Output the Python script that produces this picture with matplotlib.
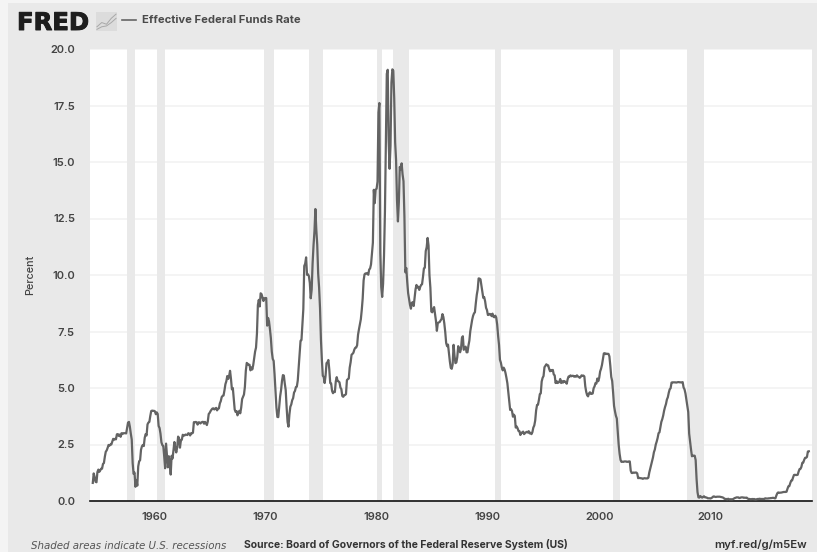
import numpy as np
import matplotlib
matplotlib.use("Agg")
import matplotlib.pyplot as plt
import matplotlib.patheffects as pe
from matplotlib.patches import Rectangle

# monthly effective rate, Jul 1954 onwards
rates_1954_1959 = [0.80, 1.22, 1.06, 0.85, 0.83, 1.28,
    1.39, 1.29, 1.35, 1.43, 1.43, 1.64, 1.68, 1.96, 2.18, 2.24, 2.35, 2.48,
    2.45, 2.50, 2.50, 2.62, 2.75, 2.71, 2.75, 2.73, 2.95, 2.96, 2.88, 2.94,
    2.84, 3.00, 2.96, 3.00, 3.00, 3.00, 2.99, 3.24, 3.47, 3.50, 3.28, 2.98,
    2.72, 1.67, 1.20, 1.26, 0.63, 0.93, 0.68, 1.53, 1.76, 1.80, 2.27, 2.42,
    2.48, 2.43, 2.80, 2.96, 2.90, 3.39, 3.47, 3.50, 3.76, 3.98, 4.00, 3.99]
rates_1960s = [3.99, 3.97, 3.84, 3.92, 3.85, 3.32, 3.23, 2.98, 2.60, 2.47, 2.44, 1.98,
    1.45, 2.54, 2.02, 1.49, 1.98, 1.73, 1.17, 2.00, 1.88, 2.26, 2.61, 2.33,
    2.15, 2.37, 2.85, 2.78, 2.36, 2.68, 2.71, 2.93, 2.90, 2.90, 2.94, 2.93,
    2.92, 3.00, 2.98, 2.90, 3.00, 2.99, 3.02, 3.49, 3.48, 3.50, 3.48, 3.38,
    3.48, 3.48, 3.43, 3.47, 3.50, 3.50, 3.42, 3.50, 3.45, 3.36, 3.52, 3.85,
    3.90, 3.98, 4.04, 4.09, 4.10, 4.05, 4.09, 4.12, 4.01, 4.08, 4.10, 4.32,
    4.42, 4.60, 4.65, 4.67, 4.90, 5.17, 5.30, 5.53, 5.40, 5.53, 5.76, 5.40,
    4.94, 5.00, 4.53, 4.05, 3.94, 3.98, 3.79, 3.90, 3.99, 3.88, 4.13, 4.51,
    4.61, 4.71, 5.05, 5.76, 6.11, 6.07, 6.02, 6.03, 5.78, 5.91, 5.82, 6.02,
    6.30, 6.61, 6.79, 7.41, 8.67, 8.90, 8.61, 9.19, 9.15, 9.00, 8.85, 8.97]
rates_1970s = [8.98, 8.98, 7.76, 8.10, 7.95, 7.61, 7.21, 6.61, 6.29, 6.20, 5.60, 4.90,
    4.14, 3.72, 3.71, 4.15, 4.63, 4.91, 5.31, 5.57, 5.55, 5.20, 4.91, 4.14,
    3.50, 3.29, 3.83, 4.17, 4.27, 4.46, 4.55, 4.80, 4.87, 5.04, 5.06, 5.33,
    5.94, 6.58, 7.09, 7.12, 7.84, 8.49, 10.40, 10.50, 10.78, 10.01, 10.03, 9.95,
    9.65, 8.97, 9.35, 10.51, 11.31, 11.93, 12.92, 12.01, 11.34, 10.06, 9.45, 8.53,
    7.13, 6.24, 5.54, 5.49, 5.22, 5.55, 6.10, 6.14, 6.24, 5.82, 5.22, 5.20,
    4.87, 4.77, 4.84, 4.82, 5.29, 5.48, 5.31, 5.29, 5.25, 5.02, 4.95, 4.65,
    4.61, 4.68, 4.69, 4.73, 5.35, 5.39, 5.42, 5.90, 6.14, 6.47, 6.51, 6.56,
    6.70, 6.78, 6.79, 6.89, 7.36, 7.60, 7.81, 8.04, 8.45, 8.96, 9.76, 10.03,
    10.07, 10.06, 10.09, 10.01, 10.24, 10.29, 10.47, 10.94, 11.43, 13.77, 13.18, 13.78]
rates_1980s = [13.82, 14.13, 17.19, 17.61, 10.98, 9.47, 9.03, 9.61, 10.87, 12.81, 15.85, 18.90,
    19.08, 15.93, 14.70, 15.72, 18.52, 19.10, 19.04, 17.82, 15.87, 15.08, 13.31, 12.37,
    13.22, 14.78, 14.68, 14.94, 14.45, 14.15, 12.59, 10.12, 10.31, 9.71, 9.20, 8.95,
    8.68, 8.51, 8.77, 8.80, 8.63, 8.98, 9.37, 9.56, 9.45, 9.48, 9.34, 9.47,
    9.56, 9.59, 9.91, 10.29, 10.32, 11.06, 11.23, 11.64, 11.30, 9.99, 9.43, 8.38,
    8.35, 8.50, 8.58, 8.27, 7.97, 7.53, 7.88, 7.90, 7.92, 7.99, 8.05, 8.27,
    8.14, 7.86, 7.48, 6.99, 6.85, 6.92, 6.56, 6.17, 5.89, 5.85, 6.04, 6.91,
    6.43, 6.10, 6.13, 6.37, 6.85, 6.73, 6.58, 6.73, 7.22, 7.29, 6.69, 6.77,
    6.83, 6.58, 6.58, 6.87, 7.09, 7.51, 7.75, 8.01, 8.19, 8.30, 8.35, 8.76,
    9.12, 9.36, 9.85, 9.84, 9.81, 9.53, 9.24, 8.99, 9.02, 8.84, 8.55, 8.45]
rates_1990s = [8.23, 8.24, 8.28, 8.26, 8.18, 8.29, 8.15, 8.13, 8.20, 8.11, 7.81, 7.31,
    6.91, 6.25, 6.12, 5.91, 5.78, 5.90, 5.82, 5.66, 5.45, 5.21, 4.81, 4.43,
    4.03, 4.06, 3.98, 3.73, 3.82, 3.76, 3.25, 3.30, 3.22, 3.10, 3.09, 2.92,
    3.02, 3.03, 3.07, 2.96, 3.00, 3.04, 3.06, 3.03, 3.09, 2.99, 3.02, 2.96,
    3.05, 3.25, 3.34, 3.56, 4.01, 4.25, 4.26, 4.47, 4.73, 4.76, 5.29, 5.45,
    5.53, 5.92, 5.98, 6.05, 6.01, 6.00, 5.85, 5.74, 5.80, 5.76, 5.80, 5.60,
    5.56, 5.22, 5.31, 5.22, 5.24, 5.27, 5.40, 5.22, 5.30, 5.24, 5.31, 5.29,
    5.25, 5.19, 5.39, 5.51, 5.50, 5.56, 5.52, 5.54, 5.54, 5.50, 5.52, 5.50,
    5.56, 5.51, 5.49, 5.45, 5.49, 5.56, 5.54, 5.55, 5.51, 5.07, 4.83, 4.68,
    4.63, 4.76, 4.81, 4.74, 4.74, 4.76, 4.99, 5.07, 5.22, 5.20, 5.42, 5.30]
rates_2000s = [5.45, 5.73, 5.85, 6.02, 6.27, 6.53, 6.54, 6.50, 6.52, 6.51, 6.51, 6.40,
    5.98, 5.49, 5.31, 4.80, 4.21, 3.97, 3.77, 3.65, 3.07, 2.49, 2.09, 1.82,
    1.73, 1.74, 1.73, 1.75, 1.75, 1.75, 1.73, 1.74, 1.75, 1.75, 1.34, 1.24,
    1.24, 1.26, 1.25, 1.26, 1.26, 1.22, 1.01, 1.03, 1.01, 1.01, 1.00, 0.98,
    1.00, 1.01, 1.00, 1.00, 1.00, 1.03, 1.26, 1.43, 1.61, 1.76, 1.93, 2.16,
    2.28, 2.50, 2.63, 2.79, 3.00, 3.04, 3.26, 3.50, 3.62, 3.78, 4.00, 4.16,
    4.29, 4.49, 4.59, 4.79, 4.94, 4.99, 5.24, 5.25, 5.25, 5.25, 5.25, 5.24,
    5.25, 5.26, 5.26, 5.25, 5.25, 5.25, 5.26, 5.02, 4.94, 4.76, 4.49, 4.24,
    3.94, 2.98, 2.61, 2.28, 1.98, 2.00, 2.01, 2.00, 1.81, 0.97, 0.39, 0.16,
    0.15, 0.22, 0.18, 0.15, 0.18, 0.21, 0.16, 0.16, 0.15, 0.12, 0.12, 0.12]
rates_2010s = [0.11, 0.13, 0.16, 0.20, 0.20, 0.18, 0.18, 0.19, 0.19, 0.19, 0.19, 0.18,
    0.17, 0.16, 0.14, 0.10, 0.09, 0.09, 0.07, 0.10, 0.08, 0.07, 0.08, 0.07,
    0.08, 0.10, 0.13, 0.14, 0.16, 0.16, 0.16, 0.13, 0.14, 0.16, 0.16, 0.16,
    0.14, 0.15, 0.14, 0.15, 0.11, 0.09, 0.09, 0.08, 0.08, 0.09, 0.08, 0.09,
    0.07, 0.07, 0.08, 0.09, 0.09, 0.10, 0.09, 0.09, 0.09, 0.09, 0.09, 0.12,
    0.11, 0.11, 0.11, 0.12, 0.12, 0.13, 0.13, 0.14, 0.14, 0.12, 0.12, 0.24,
    0.34, 0.38, 0.36, 0.37, 0.37, 0.38, 0.39, 0.40, 0.40, 0.40, 0.41, 0.54,
    0.65, 0.66, 0.79, 0.90, 0.91, 1.04, 1.15, 1.16, 1.15, 1.15, 1.16, 1.30,
    1.41, 1.42, 1.51, 1.69, 1.70, 1.82, 1.91, 1.91, 1.95, 2.19, 2.20]

recession_starts = [1957.6, 1960.3, 1969.9, 1973.9, 1980.0, 1981.5, 1990.6, 2001.2, 2007.9]
recession_ends = [1958.3, 1961.0, 1970.8, 1975.2, 1980.5, 1982.9, 1991.2, 2001.9, 2009.4]
year_ticks = [1960, 1970, 1980, 1990, 2000, 2010]
rate_ticks = [0.0, 2.5, 5.0, 7.5, 10.0, 12.5, 15.0, 17.5, 20.0]

rates = rates_1954_1959 + rates_1960s + rates_1970s + rates_1980s + rates_1990s + rates_2000s + rates_2010s
years = 1954.5 + np.arange(len(rates)) / 12

W, H = 817, 552
BG = "#e9e9e9"
LINE = "#636363"
TXT = "#444444"
FONT = "Inter"


def fx(px):
    return px / W


def fy(py):
    return 1 - py / H


fig = plt.figure(figsize=(W / 100, H / 100), dpi=100, facecolor="#f4f4f4")
fig.add_artist(Rectangle((fx(8), 0), 1, fy(2.5), transform=fig.transFigure, facecolor=BG, edgecolor="none", zorder=-5))

ax = fig.add_axes([fx(90), fy(501), fx(812 - 90), fy(49) - fy(501)], facecolor="white")
for s, e in zip(recession_starts, recession_ends):
    ax.axvspan(s, e, color=BG, lw=0, zorder=1)
ax.set_yticks(rate_ticks)
ax.yaxis.grid(True, color="#f1f1f1", lw=1.1, zorder=0)
ax.set_axisbelow(True)
ax.plot(years, rates, color=LINE, lw=1.6, zorder=3)
ax.set_xlim(1954.25, 2019.12)
ax.set_ylim(0, 20)
ax.set_xticks(year_ticks)
ax.set_yticklabels([f"{v:.1f}" for v in rate_ticks])
for s in ["top", "left", "right"]:
    ax.spines[s].set_visible(False)
ax.spines["bottom"].set_color("#111111")
ax.spines["bottom"].set_linewidth(1.2)
ax.tick_params(length=0, labelsize=8.0, labelcolor=TXT)
ax.tick_params(axis="x", pad=7.7)
ax.tick_params(axis="y", pad=10.8)
for lab in ax.get_xticklabels() + ax.get_yticklabels():
    lab.set_family(FONT)
    lab.set_fontweight("semibold")
ax.set_ylabel("Percent", fontsize=7.8, color=TXT, family=FONT, fontweight="medium", labelpad=11)

# header
fig.text(fx(17), fy(30), "FRED", fontsize=17.5, fontweight="bold", family="DejaVu Sans", color="#1e1e1e", va="baseline",
         path_effects=[pe.withStroke(linewidth=0.7, foreground="#1e1e1e")])
icon = fig.add_axes([fx(96), fy(31), fx(21), fy(12) - fy(31)], facecolor="#dcdcdc")
icon.plot([0, 1, 2, 3, 4], [1, 2, 1.6, 3, 4], color="#a8a8a8", lw=0.7)
icon.plot([0, 1, 2, 3, 4], [0.4, 1, 1.2, 2, 3], color="#a8a8a8", lw=0.7)
icon.set_xlim(-0.2, 4.2)
icon.set_ylim(0, 4.5)
icon.set_xticks([])
icon.set_yticks([])
for s in icon.spines.values():
    s.set_visible(False)
fig.add_artist(plt.Line2D([fx(122), fx(136)], [fy(20), fy(20)], color="#666666", lw=1.2))
fig.text(fx(142), fy(20), "Effective Federal Funds Rate", fontsize=8.1, fontweight="bold", family=FONT, color="#4a4a4a", va="center")

# footer
fig.text(fx(31), fy(546), "Shaded areas indicate U.S. recessions", fontsize=7.4, style="italic", family="DejaVu Sans", color="#555555", va="center")
fig.text(fx(244), fy(545), "Source: Board of Governors of the Federal Reserve System (US)", fontsize=7.5, fontweight="bold", family=FONT, color="#333333", va="center")
fig.text(fx(807), fy(545), "myf.red/g/m5Ew", fontsize=8.2, fontweight="semibold", family=FONT, color="#333333", va="center", ha="right")

fig.savefig("out.png", dpi=100, facecolor=fig.get_facecolor())
